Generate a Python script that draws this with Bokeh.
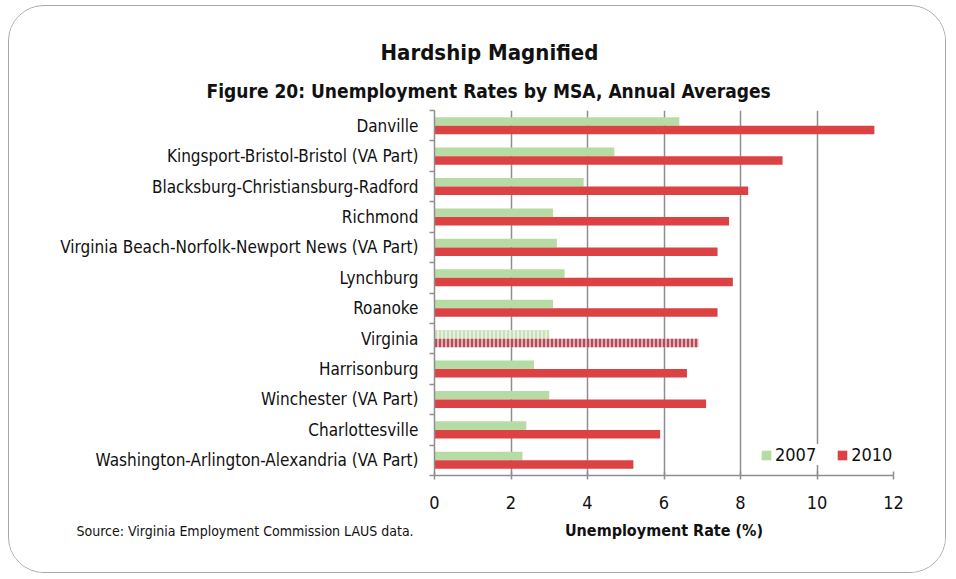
import numpy as np
from bokeh.plotting import figure
from bokeh.models import ColumnDataSource, FixedTicker, Legend, LegendItem, Range1d, Title
from bokeh.transform import dodge
from bokeh.embed import file_html
from bokeh.resources import INLINE

categories = [
    "Danville",
    "Kingsport-Bristol-Bristol (VA Part)",
    "Blacksburg-Christiansburg-Radford",
    "Richmond",
    "Virginia Beach-Norfolk-Newport News (VA Part)",
    "Lynchburg",
    "Roanoke",
    "Virginia",
    "Harrisonburg",
    "Winchester (VA Part)",
    "Charlottesville",
    "Washington-Arlington-Alexandria (VA Part)",
]
rate_2007 = [6.4, 4.7, 3.9, 3.1, 3.2, 3.4, 3.1, 3.0, 2.6, 3.0, 2.4, 2.3]
rate_2010 = [11.5, 9.1, 8.2, 7.7, 7.4, 7.8, 7.4, 6.9, 6.6, 7.1, 5.9, 5.2]
x_ticks = [0, 2, 4, 6, 8, 10, 12]
series_labels = ["2007", "2010"]
highlight = "Virginia"

FONT = "'Liberation Sans Narrow', 'Arial Narrow', 'DejaVu Sans Condensed', sans-serif"
GREEN = "#b6dba4"
RED = "#dc4144"
GRAY = "#8e8e8e"
TXT = "#111111"

n = len(categories)
pos = [n - 1 - i for i in range(n)]

def make_source(keep):
    idx = [i for i, c in enumerate(categories) if keep(c)]
    return ColumnDataSource(dict(
        y=[pos[i] for i in idx],
        cat=[categories[i] for i in idx],
        r07=[rate_2007[i] for i in idx],
        r10=[rate_2010[i] for i in idx],
    ))

src_main = make_source(lambda c: c != highlight)
src_va = make_source(lambda c: c == highlight)

p = figure(
    width=938, height=568, title=None,
    x_range=Range1d(0, 12), y_range=Range1d(-0.5, n - 0.5),
    output_backend="svg", toolbar_location=None,
    min_border_left=425, min_border_right=54, min_border_top=104, min_border_bottom=99,
)
p.styles = {
    "margin-left": "8px", "margin-top": "5px",
    "border": "1.5px solid #a8a8a8", "border-radius": "36px", "overflow": "hidden",
}
p.outline_line_color = None
p.background_fill_color = "white"
p.border_fill_color = "white"

BAR_H = 0.28
r07 = p.hbar(y=dodge("y", BAR_H / 2), right="r07", left=0, height=BAR_H, source=src_main,
             fill_color=GREEN, line_color=None)
r10 = p.hbar(y=dodge("y", -BAR_H / 2), right="r10", left=0, height=BAR_H, source=src_main,
             fill_color=RED, line_color=None)
p.hbar(y=dodge("y", BAR_H / 2), right="r07", left=0, height=BAR_H, source=src_va,
       fill_color="#e4f1dc", line_color=None, hatch_pattern="vertical_line",
       hatch_color="#bfdcab", hatch_scale=4, hatch_weight=1.5)
p.hbar(y=dodge("y", -BAR_H / 2), right="r10", left=0, height=BAR_H, source=src_va,
       fill_color="#e3aab2", line_color=None, hatch_pattern="vertical_line",
       hatch_color="#a53441", hatch_scale=4, hatch_weight=1.6)

# x axis
p.xaxis.ticker = FixedTicker(ticks=x_ticks, minor_ticks=[])
p.xaxis.axis_line_color = GRAY
p.xaxis.axis_line_width = 1.5
p.xaxis.major_tick_line_color = GRAY
p.xaxis.major_tick_line_width = 1.5
p.xaxis.major_tick_in = 4
p.xaxis.major_tick_out = 4
p.xaxis.major_label_standoff = 16
p.xaxis.major_label_text_font = FONT
p.xaxis.major_label_text_font_size = "18px"
p.xaxis.major_label_text_color = TXT
p.xaxis.axis_label = "Unemployment Rate (%)"
p.xaxis.axis_label_text_font = FONT
p.xaxis.axis_label_text_font_size = "16px"
p.xaxis.axis_label_text_font_style = "bold"
p.xaxis.axis_label_text_color = TXT
p.xaxis.axis_label_standoff = 9

# y axis with labels at category centres and ticks at boundaries
p.yaxis.ticker = FixedTicker(ticks=pos, minor_ticks=[k - 0.5 for k in range(n + 1)])
p.yaxis.major_label_overrides = {pos[i]: categories[i] for i in range(n)}
p.yaxis.axis_line_color = GRAY
p.yaxis.axis_line_width = 1.5
p.yaxis.major_tick_line_color = None
p.yaxis.minor_tick_line_color = GRAY
p.yaxis.minor_tick_line_width = 1.5
p.yaxis.minor_tick_in = 0
p.yaxis.minor_tick_out = 5
p.yaxis.major_label_standoff = 10
p.yaxis.major_label_text_font = FONT
p.yaxis.major_label_text_font_size = "17px"
p.yaxis.major_label_text_color = TXT

p.xgrid.ticker = FixedTicker(ticks=x_ticks[1:])
p.xgrid.grid_line_color = GRAY
p.xgrid.grid_line_width = 1.5
p.ygrid.grid_line_color = None

legend = Legend(
    items=[LegendItem(label=series_labels[0], renderers=[r07]),
           LegendItem(label=series_labels[1], renderers=[r10])],
    orientation="horizontal", location=(326, 10),
    background_fill_color="white", background_fill_alpha=1.0,
    border_line_color=None, label_text_font=FONT, label_text_font_size="18px",
    label_text_color=TXT,
    glyph_width=12, glyph_height=12, label_standoff=3, spacing=20,
    padding=4, margin=0,
)
p.add_layout(legend)

# titles (first added sits closest to the plot)
p.add_layout(Title(text="Figure 20: Unemployment Rates by MSA, Annual Averages",
                   align="left", offset=-228, standoff=18, text_font=FONT,
                   text_font_size="19px", text_font_style="bold", text_color=TXT), "above")
p.add_layout(Title(text="Hardship Magnified",
                   align="left", offset=-54, standoff=8, text_font=FONT,
                   text_font_size="22px", text_font_style="bold", text_color=TXT), "above")
p.add_layout(Title(text="Source: Virginia Employment Commission LAUS data.",
                   align="left", vertical_align="top", offset=-358, standoff=-40,
                   text_font=FONT, text_font_size="14px", text_font_style="normal",
                   text_color=TXT), "below")

open("out.html", "w").write(file_html(p, INLINE))
